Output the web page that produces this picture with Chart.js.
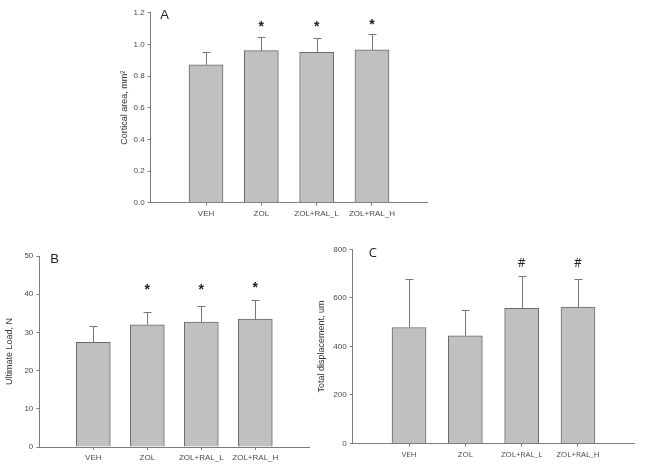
<!DOCTYPE html>
<html>
<head>
<meta charset="utf-8">
<script src="https://cdn.jsdelivr.net/npm/chart.js@4.4.0/dist/chart.umd.min.js"></script>
<style>
  body { margin: 0; background: #fff; width: 645px; height: 473px; position: relative; overflow: hidden; }
  .panel { position: absolute; }
</style>
</head>
<body>
<div class="panel" style="left:110px;top:0px"><canvas id="chartA" width="330" height="225"></canvas></div>
<div class="panel" style="left:0px;top:240px"><canvas id="chartB" width="320" height="233"></canvas></div>
<div class="panel" style="left:312px;top:240px"><canvas id="chartC" width="333" height="233"></canvas></div>
<script>
// groups on the x axis
const groups = ["VEH", "ZOL", "ZOL+RAL_L", "ZOL+RAL_H"];

// A - cortical area
const corticalArea = [0.87, 0.96, 0.95, 0.965];
const corticalAreaErr = [0.08, 0.085, 0.09, 0.10];
const corticalMarks = ["", "*", "*", "*"];
const corticalMarkAt = [null, 1.11, 1.11, 1.12];
const corticalTicks = [0, 0.2, 0.4, 0.6, 0.8, 1.0, 1.2];

// B - ultimate load
const ultimateLoad = [27.4, 32.0, 32.7, 33.5];
const ultimateLoadErr = [4.3, 3.4, 4.2, 5.1];
const loadMarks = ["", "*", "*", "*"];
const loadMarkAt = [null, 41, 41, 41.5];
const loadTicks = [0, 10, 20, 30, 40, 50];

// C - total displacement
const displacement = [478, 444, 557, 562];
const displacementErr = [198, 107, 134, 115];
const dispMarks = ["", "", "#", "#"];
const dispMarkAt = [null, null, 740, 740];
const dispTicks = [0, 200, 400, 600, 800];

const axisGray = "#7c7c7c";
const textGray = "#4a4a4a";

function makePanel(id, cfg) {
  const labels = [""].concat(groups, [""]);
  const values = [null].concat(cfg.values, [null]);
  const ticks = cfg.ticks;

  const overlay = {
    id: "overlay",
    afterDatasetsDraw(chart) {
      const ctx = chart.ctx;
      const x = chart.scales.x;
      const y = chart.scales.y;
      ctx.save();
      ctx.strokeStyle = "#777";
      ctx.lineWidth = 1;
      cfg.values.forEach(function (v, i) {
        const px = Math.round(x.getPixelForValue(i + 1)) + 0.5;
        const top = Math.round(y.getPixelForValue(v + cfg.errors[i])) + 0.5;
        const base = y.getPixelForValue(v);
        ctx.beginPath();
        ctx.moveTo(px, base);
        ctx.lineTo(px, top);
        ctx.moveTo(px - 4, top);
        ctx.lineTo(px + 4, top);
        ctx.stroke();
      });
      // significance marks
      ctx.fillStyle = "#222";
      ctx.textAlign = "center";
      ctx.textBaseline = "middle";
      ctx.font = cfg.markFont;
      cfg.marks.forEach(function (m, i) {
        if (!m) return;
        ctx.fillText(m, x.getPixelForValue(i + 1), y.getPixelForValue(cfg.markAt[i]));
      });
      // panel letter
      ctx.font = cfg.letterFont;
      ctx.textAlign = "left";
      ctx.fillStyle = "#222";
      ctx.fillText(cfg.letter, chart.chartArea.left + cfg.letterDx, chart.chartArea.top + cfg.letterDy);
      ctx.restore();
    }
  };

  new Chart(document.getElementById(id).getContext("2d"), {
    type: "bar",
    data: {
      labels: labels,
      datasets: [{
        data: values,
        backgroundColor: "#c0c0c0",
        borderColor: "#6a6a6a",
        borderWidth: 1,
        barThickness: 34
      }]
    },
    options: {
      responsive: false,
      animation: false,
      layout: { padding: cfg.padding },
      plugins: { legend: { display: false }, tooltip: { enabled: false } },
      scales: {
        x: {
          offset: false,
          afterFit: function (s) { s.height = cfg.xHeight; },
          grid: {
            offset: false,
            drawOnChartArea: false,
            drawTicks: true,
            tickLength: 3,
            color: function (c) {
              return (c.index === 0 || c.index === labels.length - 1) ? "rgba(0,0,0,0)" : axisGray;
            }
          },
          border: { color: axisGray, width: 1 },
          ticks: {
            color: textGray,
            maxRotation: 0,
            autoSkip: false,
            padding: 3,
            font: { family: cfg.tickFamily, size: 8 }
          }
        },
        y: {
          min: ticks[0],
          max: ticks[ticks.length - 1],
          afterFit: function (s) { s.width = cfg.yWidth; },
          grid: { drawOnChartArea: false, drawTicks: true, tickLength: 3, color: axisGray },
          border: { color: axisGray, width: 1 },
          ticks: {
            stepSize: ticks[1] - ticks[0],
            color: textGray,
            padding: 3,
            font: { family: "Liberation Sans", size: 8 },
            callback: function (v) { return v.toFixed(cfg.decimals); }
          },
          title: {
            display: true,
            text: cfg.title,
            color: "#333",
            font: { family: "Liberation Sans", size: 9 },
            padding: { top: cfg.titlePad, bottom: 0 }
          }
        }
      }
    },
    plugins: [overlay]
  });
}

makePanel("chartA", {
  values: corticalArea, errors: corticalAreaErr, marks: corticalMarks, markAt: corticalMarkAt,
  ticks: corticalTicks, decimals: 1, title: "Cortical area, mm\u00b2",
  padding: { left: 0, right: 12.7, top: 12.7, bottom: 0 },
  yWidth: 40.7, xHeight: 22.3, titlePad: 9.6,
  letter: "A", letterFont: "13px 'Liberation Sans'", letterDx: 9.5, letterDy: 3,
  markFont: "bold 14px 'Liberation Sans'", tickFamily: "Liberation Sans"
});

makePanel("chartB", {
  values: ultimateLoad, errors: ultimateLoadErr, marks: loadMarks, markAt: loadMarkAt,
  ticks: loadTicks, decimals: 0, title: "Ultimate Load, N",
  padding: { left: 0, right: 10.7, top: 16, bottom: 0 },
  yWidth: 39.3, xHeight: 26, titlePad: 4.6,
  letter: "B", letterFont: "13px 'Liberation Sans'", letterDx: 11, letterDy: 3,
  markFont: "bold 14px 'Liberation Sans'", tickFamily: "Liberation Sans"
});

makePanel("chartC", {
  values: displacement, errors: displacementErr, marks: dispMarks, markAt: dispMarkAt,
  ticks: dispTicks, decimals: 0, title: "Total displacement, um",
  padding: { left: 0, right: 10.7, top: 9.3, bottom: 0 },
  yWidth: 40.7, xHeight: 29.5, titlePad: 4.3,
  letter: "C", letterFont: "13px 'Open Sans'", letterDx: 16, letterDy: 4,
  markFont: "12px 'Open Sans'", tickFamily: "Open Sans"
});
</script>
</body>
</html>
